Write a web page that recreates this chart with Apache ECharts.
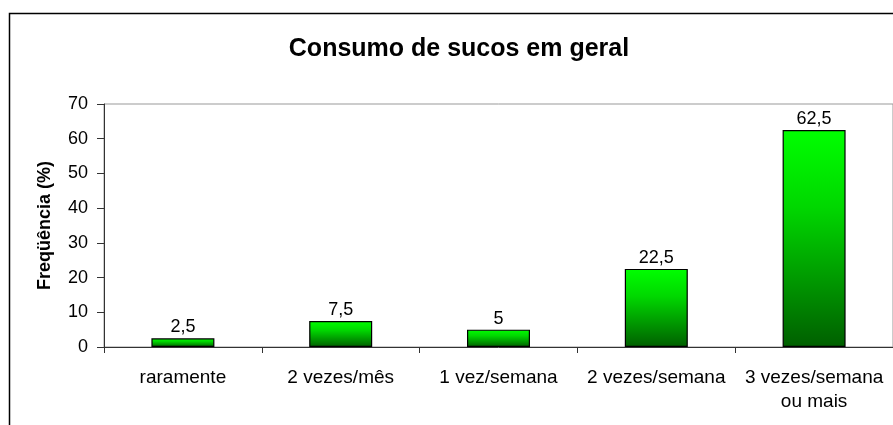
<!DOCTYPE html>
<html>
<head>
<meta charset="utf-8">
<script src="https://cdn.jsdelivr.net/npm/echarts@6/dist/echarts.min.js"></script>
<style>
  html, body { margin: 0; padding: 0; background: #fff; }
  #chart { width: 893px; height: 425px; }
</style>
</head>
<body>
<div id="chart"></div>
<script>
var categories = ['raramente', '2 vezes/mês', '1 vez/semana', '2 vezes/semana', '3 vezes/semana\nou mais'];
var values = [2.5, 7.5, 5, 22.5, 62.5];
var yTicks = { min: 0, max: 70, interval: 10 };

var chart = echarts.init(document.getElementById('chart'));
var font = 'Liberation Sans, Arial, sans-serif';

var option = {
  animation: false,
  graphic: [{
    type: 'rect',
    shape: { x: 9.5, y: 13.5, width: 900, height: 430 },
    style: { fill: 'none', stroke: '#000', lineWidth: 1.5 },
    z: 100
  }],
  title: {
    text: 'Consumo de sucos em geral',
    left: 454,
    textAlign: 'center',
    top: 32,
    textStyle: { fontFamily: font, fontSize: 25, fontWeight: 'bold', color: '#000' }
  },
  grid: {
    left: 104, right: -1, top: 104, bottom: 78,
    show: true, borderColor: '#999', borderWidth: 1
  },
  xAxis: {
    type: 'category',
    data: categories,
    axisLine: { lineStyle: { color: '#333', width: 1 } },
    axisTick: { show: true, length: 6, lineStyle: { color: '#333' } },
    axisLabel: {
      interval: 0, margin: 19, color: '#000', fontFamily: font, fontSize: 19, lineHeight: 24
    }
  },
  yAxis: {
    type: 'value',
    min: yTicks.min, max: yTicks.max, interval: yTicks.interval,
    name: 'Freqüência (%)',
    nameLocation: 'middle',
    nameGap: 50,
    nameTextStyle: { fontFamily: font, fontSize: 18, fontWeight: 'bold', color: '#000' },
    axisLine: { show: true, lineStyle: { color: '#333', width: 1 } },
    axisTick: { show: true, length: 7, lineStyle: { color: '#333' } },
    axisLabel: { margin: 16, color: '#000', fontFamily: font, fontSize: 18 },
    splitLine: { show: false }
  },
  series: [{
    type: 'bar',
    data: values,
    barWidth: 63,
    itemStyle: {
      borderColor: '#000',
      borderWidth: 1.2,
      color: new echarts.graphic.LinearGradient(0, 0, 0, 1, [
        { offset: 0, color: '#00ff00' },
        { offset: 0.35, color: '#00d800' },
        { offset: 1, color: '#005f00' }
      ])
    },
    label: {
      show: true,
      position: 'top',
      distance: 2,
      color: '#000',
      fontFamily: font,
      fontSize: 18,
      formatter: function (p) { return String(p.value).replace('.', ','); }
    }
  }]
};
chart.setOption(option);
</script>
</body>
</html>
